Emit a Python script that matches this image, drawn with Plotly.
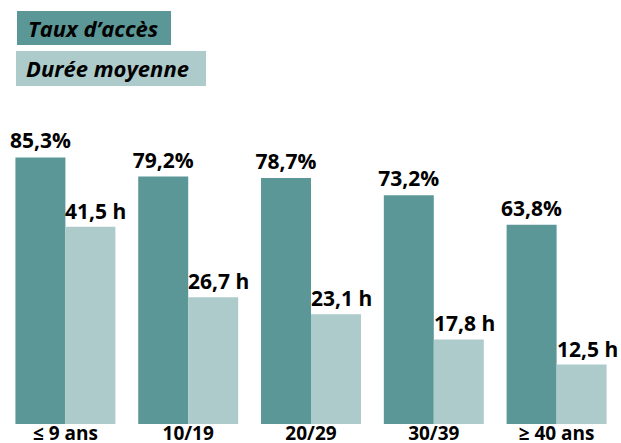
import plotly.graph_objects as go

categories = ["≤ 9 ans", "10/19", "20/29", "30/39", "≥ 40 ans"]
taux_acces = [85.3, 79.2, 78.7, 73.2, 63.8]
duree_moyenne = [41.5, 26.7, 23.1, 17.8, 12.5]
taux_labels = ["85,3%", "79,2%", "78,7%", "73,2%", "63,8%"]
duree_labels = ["41,5 h", "26,7 h", "23,1 h", "17,8 h", "12,5 h"]
series_names = ["Taux d’accès", "Durée moyenne"]

DARK = "#5b9796"
LIGHT = "#adcbcb"
FONT = "Open Sans"

W, H = 621, 443
ML, MR, MT, MB = 4, 3, 100, 19
PW, PH = W - ML - MR, H - MT - MB

def px_x(x):
    return (x - ML) / PW

def px_y(y):
    return (H - MB - y) / PH

fig = go.Figure()
fig.add_trace(go.Bar(
    x=categories, y=taux_acces, name=series_names[0],
    marker=dict(color=DARK, line=dict(width=0)),
    offsetgroup="a", yaxis="y",
    text=taux_labels, textposition="outside", constraintext="none",
    textfont=dict(family=FONT, size=21, color="black", weight="bold"),
    cliponaxis=False,
))
fig.add_trace(go.Bar(
    x=categories, y=duree_moyenne, name=series_names[1],
    marker=dict(color=LIGHT, line=dict(width=0)),
    offsetgroup="b", yaxis="y2",
    cliponaxis=False,
))

annotations = []
for c, v, t in zip(categories, duree_moyenne, duree_labels):
    annotations.append(dict(
        x=c, y=v, xref="x", yref="y2", text=t, showarrow=False,
        xanchor="left", yanchor="bottom", xshift=-2,
        font=dict(family=FONT, size=21, color="black", weight="bold"),
    ))

# legend boxes
legend_boxes = [
    (17, 11, 171, 45, DARK, series_names[0], 26),
    (16, 51, 206, 86, LIGHT, series_names[1], 24),
]
shapes = []
for x0, y0, x1, y1, col, txt, tx in legend_boxes:
    shapes.append(dict(type="rect", xref="paper", yref="paper",
                       x0=px_x(x0), x1=px_x(x1), y0=px_y(y1), y1=px_y(y0),
                       fillcolor=col, line=dict(width=0), layer="above"))
    annotations.append(dict(
        x=px_x(tx), y=px_y((y0 + y1) / 2), xref="paper", yref="paper",
        text=f"<i>{txt}</i>", showarrow=False, xanchor="left", yanchor="middle",
        font=dict(family=FONT, size=22, color="black", weight="bold"),
    ))

fig.update_layout(
    width=W, height=H,
    margin=dict(l=ML, r=MR, t=MT, b=MB, autoexpand=False),
    paper_bgcolor="white", plot_bgcolor="white",
    barmode="group", bargap=0.186, bargroupgap=0,
    showlegend=False,
    xaxis=dict(type="category", range=[-0.5, 4.5], showgrid=False, zeroline=False,
               showline=False, ticks="", automargin=False, ticklabelstandoff=-4,
               tickfont=dict(family=FONT, size=19, color="black", weight="bold")),
    yaxis=dict(range=[0, 103.7], visible=False, showgrid=False, zeroline=False),
    yaxis2=dict(range=[0, 68.2], visible=False, overlaying="y", showgrid=False, zeroline=False),
    shapes=shapes,
    annotations=annotations,
)

fig.write_html("out.html",
               config={"displayModeBar": False},
               post_script="document.body.style.margin='0';document.body.style.overflow='hidden';")
